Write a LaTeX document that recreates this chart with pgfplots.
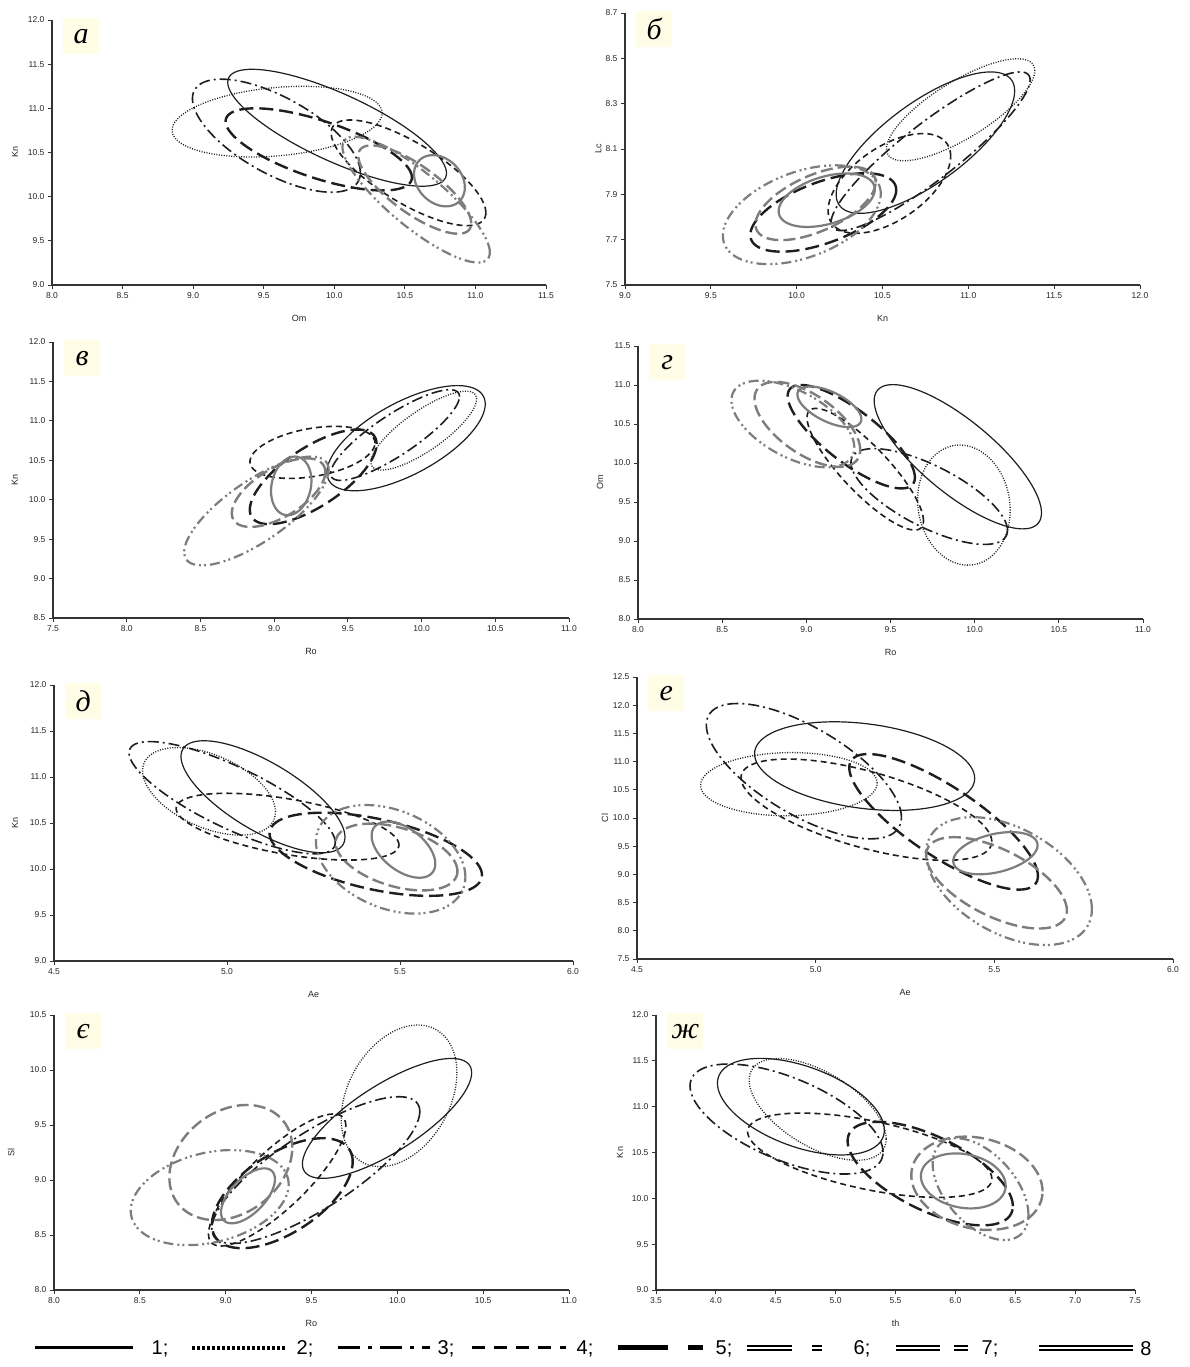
\documentclass[border=0pt]{standalone}
\usepackage{fontspec}
\setmainfont{Liberation Sans}
\newfontfamily\letterfont{Liberation Serif}
\usepackage{pgfplots}
\pgfplotsset{compat=1.18}
\definecolor{cream}{RGB}{255,253,230}
\definecolor{gr}{RGB}{125,125,125}
\definecolor{bk}{RGB}{30,30,30}
% ellipse: style, cx, sx (half x-extent), cy, sy (half y-extent), phase p (cos p = correlation)
\newcommand{\E}[6]{\addplot[#1, domain=0:360, samples=91, variable=\t] ({#2+#3*cos(\t)},{#4+#5*cos(\t-#6)});}
\newcommand{\panelletter}[1]{\node[fill=cream, inner sep=0pt, minimum width=36pt, minimum height=36pt, anchor=north west, xshift=11pt, yshift=2pt, font=\letterfont\itshape\fontsize{30}{30}\selectfont] at (rel axis cs:0,1) {#1};}
\pgfplotsset{
  panel/.style={
    scale only axis, anchor=south west,
    axis lines*=left,
    axis line style={black!80, line width=1.3pt},
    tick align=outside, major tick length=4pt,
    tick style={black!80, line width=0.8pt},
    tick label style={font=\fontsize{8.5}{9}\selectfont, text=black!85},
    /pgf/number format/fixed, /pgf/number format/fixed zerofill,
    /pgf/number format/precision=1, /pgf/number format/assume math mode=true,
    label style={font=\fontsize{9}{10}\selectfont, text=black!85},
    xlabel style={at={(axis description cs:0.5,0)}, anchor=center, yshift=-33pt},
    scaled ticks=false, clip=false,
  },
  s1/.style={bk, line width=1.2pt},
  s2/.style={bk, line width=1.3pt, dash pattern=on 1pt off 1.5pt},
  s3/.style={bk, line width=1.6pt, dash pattern=on 11pt off 4pt on 2pt off 4pt},
  s4/.style={bk, line width=1.6pt, dash pattern=on 6pt off 4pt},
  s5/.style={bk, line width=2.4pt, dash pattern=on 14pt off 6pt},
  s6/.style={gr, line width=2.2pt, dash pattern=on 10pt off 4pt on 2pt off 3pt on 2pt off 4pt},
  s7/.style={gr, line width=2.4pt, dash pattern=on 12pt off 5pt},
  s8/.style={gr, line width=2.2pt},
}
\begin{document}
\begin{tikzpicture}
\path[use as bounding box, fill=white] (0,0) rectangle (1189pt,1367pt);

% ---------- a ----------
\begin{axis}[panel, at={(52pt,1082pt)}, width=494pt, height=265pt,
  xmin=8, xmax=11.5, ymin=9, ymax=12,
  xtick={8,8.5,9,9.5,10,10.5,11,11.5}, ytick={9,9.5,10,10.5,11,11.5,12},
  xlabel={Om}, ylabel={Kn}, ylabel style={at={(axis description cs:-0.075,0.5)}, anchor=center}]
\E{s1}{10.02}{0.775}{10.78}{0.662}{141}
\E{s2}{9.595}{0.744}{10.849}{0.40}{76}
\E{s3}{9.59}{0.595}{10.69}{0.64}{131}
\E{s4}{10.526}{0.548}{10.27}{0.598}{139}
\E{s5}{9.89}{0.66}{10.535}{0.465}{133}
\E{s6}{10.58}{0.522}{9.966}{0.712}{147}
\E{s7}{10.57}{0.40}{10.08}{0.50}{140}
\E{s8}{10.745}{0.18}{10.18}{0.29}{105}
\panelletter{а}
\end{axis}

% ---------- b ----------
\begin{axis}[panel, at={(625pt,1082pt)}, width=515pt, height=272pt,
  xmin=9, xmax=12, ymin=7.5, ymax=8.7,
  xtick={9,9.5,10,10.5,11,11.5,12}, ytick={7.5,7.7,7.9,8.1,8.3,8.5,8.7},
  xlabel={Kn}, ylabel={Lc}, ylabel style={at={(axis description cs:-0.052,0.5)}, anchor=center}]
\E{s1}{10.75}{0.52}{8.128}{0.312}{43}
\E{s2}{10.955}{0.432}{8.273}{0.225}{40}
\E{s3}{10.78}{0.58}{8.09}{0.35}{26}
\E{s4}{10.54}{0.357}{7.948}{0.22}{57}
\E{s5}{10.155}{0.425}{7.82}{0.173}{55}
\E{s6}{10.03}{0.46}{7.81}{0.218}{65}
\E{s7}{10.11}{0.35}{7.86}{0.162}{55}
\E{s8}{10.175}{0.28}{7.874}{0.118}{66}
\panelletter{б}
\end{axis}

% ---------- v ----------
\begin{axis}[panel, at={(53pt,749pt)}, width=516pt, height=276pt,
  xmin=7.5, xmax=11, ymin=8.5, ymax=12,
  xtick={7.5,8,8.5,9,9.5,10,10.5,11}, ytick={8.5,9,9.5,10,10.5,11,11.5,12},
  xlabel={Ro}, ylabel={Kn}, ylabel style={at={(axis description cs:-0.074,0.5)}, anchor=center}]
\E{s1}{9.895}{0.537}{10.78}{0.667}{49.5}
\E{s2}{10.015}{0.358}{10.876}{0.50}{37}
\E{s3}{9.82}{0.437}{10.82}{0.575}{32}
\E{s4}{9.26}{0.424}{10.60}{0.33}{69}
\E{s5}{9.265}{0.43}{10.29}{0.60}{46}
\E{s6}{8.88}{0.49}{9.857}{0.69}{41}
\E{s7}{9.03}{0.317}{10.09}{0.435}{53}
\E{s8}{9.116}{0.137}{10.175}{0.372}{80}
\panelletter{в}
\end{axis}

% ---------- g ----------
\begin{axis}[panel, at={(638pt,748pt)}, width=505pt, height=273pt,
  xmin=8, xmax=11, ymin=8, ymax=11.5,
  xtick={8,8.5,9,9.5,10,10.5,11}, ytick={8,8.5,9,9.5,10,10.5,11,11.5},
  xlabel={Ro}, ylabel={Om}, ylabel style={at={(axis description cs:-0.075,0.5)}, anchor=center}]
\E{s1}{9.90}{0.497}{10.08}{0.925}{141}
\E{s2}{9.936}{0.275}{9.46}{0.77}{95}
\E{s3}{9.73}{0.465}{9.57}{0.614}{135}
\E{s4}{9.35}{0.346}{9.92}{0.78}{148}
\E{s5}{9.267}{0.378}{10.337}{0.663}{142}
\E{s6}{8.92}{0.365}{10.50}{0.555}{123}
\E{s7}{9.006}{0.314}{10.495}{0.545}{127}
\E{s8}{9.137}{0.19}{10.72}{0.26}{127}
\panelletter{г}
\end{axis}

% ---------- d ----------
\begin{axis}[panel, at={(54pt,406pt)}, width=519pt, height=276pt,
  xmin=4.5, xmax=6, ymin=9, ymax=12,
  xtick={4.5,5,5.5,6}, ytick={9,9.5,10,10.5,11,11.5,12},
  xlabel={Ae}, ylabel={Kn}, ylabel style={at={(axis description cs:-0.075,0.5)}, anchor=center}]
\E{s1}{5.104}{0.237}{10.785}{0.609}{136}
\E{s2}{4.948}{0.192}{10.844}{0.476}{118}
\E{s3}{5.015}{0.298}{10.775}{0.61}{143}
\E{s4}{5.175}{0.322}{10.46}{0.363}{123}
\E{s5}{5.43}{0.307}{10.16}{0.452}{120}
\E{s6}{5.473}{0.216}{10.105}{0.59}{109}
\E{s7}{5.49}{0.176}{10.13}{0.363}{115}
\E{s8}{5.51}{0.092}{10.21}{0.305}{120}
\panelletter{д}
\end{axis}

% ---------- e ----------
\begin{axis}[panel, at={(637pt,408pt)}, width=536pt, height=282pt,
  xmin=4.5, xmax=6, ymin=7.5, ymax=12.5,
  xtick={4.5,5,5.5,6}, ytick={7.5,8,8.5,9,9.5,10,10.5,11,11.5,12,12.5},
  xlabel={Ae}, ylabel={Cl}, ylabel style={at={(axis description cs:-0.06,0.5)}, anchor=center}]
\E{s1}{5.137}{0.308}{10.92}{0.786}{106}
\E{s2}{4.925}{0.247}{10.60}{0.56}{88}
\E{s3}{4.967}{0.273}{10.83}{1.2}{133}
\E{s4}{5.142}{0.351}{10.147}{0.898}{129}
\E{s5}{5.358}{0.264}{9.932}{1.202}{143}
\E{s6}{5.541}{0.232}{8.881}{1.134}{116}
\E{s7}{5.506}{0.197}{8.85}{0.81}{127}
\E{s8}{5.503}{0.118}{9.376}{0.374}{68}
\panelletter{е}
\end{axis}

% ---------- ye ----------
\begin{axis}[panel, at={(54pt,77pt)}, width=515pt, height=275pt,
  xmin=8, xmax=11, ymin=8, ymax=10.5,
  xtick={8,8.5,9,9.5,10,10.5,11}, ytick={8,8.5,9,9.5,10,10.5},
  xlabel={Ro}, ylabel={Sl}, ylabel style={at={(axis description cs:-0.083,0.5)}, anchor=center}]
\E{s1}{9.94}{0.493}{9.56}{0.545}{40.5}
\E{s2}{10.01}{0.337}{9.765}{0.644}{71}
\E{s3}{9.525}{0.606}{9.09}{0.667}{37}
\E{s4}{9.30}{0.40}{9.00}{0.60}{35}
\E{s5}{9.33}{0.41}{8.88}{0.50}{55}
\E{s6}{8.907}{0.46}{8.84}{0.432}{74}
\E{s7}{9.03}{0.358}{9.159}{0.523}{75}
\E{s8}{9.13}{0.157}{8.856}{0.25}{53}
\panelletter{є}
\end{axis}

% ---------- zh ----------
\begin{axis}[panel, at={(656pt,77pt)}, width=479pt, height=275pt,
  xmin=3.5, xmax=7.5, ymin=9, ymax=12,
  xtick={3.5,4,4.5,5,5.5,6,6.5,7,7.5}, ytick={9,9.5,10,10.5,11,11.5,12},
  xlabel={th}, ylabel={Kn}, ylabel style={at={(axis description cs:-0.075,0.5)}, anchor=center}]
\E{s1}{4.71}{0.697}{11.0}{0.527}{119}
\E{s2}{4.85}{0.572}{10.97}{0.555}{125}
\E{s3}{4.59}{0.806}{10.865}{0.60}{127}
\E{s4}{5.285}{1.02}{10.47}{0.46}{124}
\E{s5}{5.79}{0.69}{10.27}{0.565}{129}
\E{s6}{6.21}{0.40}{10.10}{0.555}{120}
\E{s7}{6.18}{0.548}{10.164}{0.509}{100}
\E{s8}{6.066}{0.354}{10.19}{0.30}{100}
\panelletter{ж}
\end{axis}

% ---------- legend ----------
\begin{scope}[font=\fontsize{20}{20}\selectfont]
\draw[black, line width=3pt] (35pt,19pt) -- (133pt,19pt);
\node at (160pt,18pt) {1;};
\draw[black, line width=3.5pt, dash pattern=on 2.5pt off 2.5pt] (192pt,19pt) -- (286pt,19pt);
\node at (305pt,18pt) {2;};
\draw[black, line width=3pt, dash pattern=on 22pt off 8pt on 4pt off 8pt] (338pt,19pt) -- (430pt,19pt);
\node at (446pt,18pt) {3;};
\draw[black, line width=3pt, dash pattern=on 13pt off 9pt] (472pt,19pt) -- (566pt,19pt);
\node at (585pt,18pt) {4;};
\draw[black, line width=5pt] (618pt,19pt) -- (668pt,19pt);
\draw[black, line width=5pt] (688pt,19pt) -- (703pt,19pt);
\node at (724pt,18pt) {5;};
\draw[black, line width=1.3pt, double=white, double distance=2.5pt] (747pt,19pt) -- (792pt,19pt);
\draw[black, line width=1.3pt, double=white, double distance=2.5pt] (812pt,19pt) -- (822pt,19pt);
\node at (862pt,18pt) {6;};
\draw[black, line width=1.3pt, double=white, double distance=2.5pt] (896pt,19pt) -- (940pt,19pt);
\draw[black, line width=1.3pt, double=white, double distance=2.5pt] (954pt,19pt) -- (968pt,19pt);
\node at (990pt,18pt) {7;};
\draw[black, line width=1.3pt, double=white, double distance=2.5pt] (1039pt,19pt) -- (1133pt,19pt);
\node at (1146pt,18pt) {8};
\end{scope}
\end{tikzpicture}
\end{document}
